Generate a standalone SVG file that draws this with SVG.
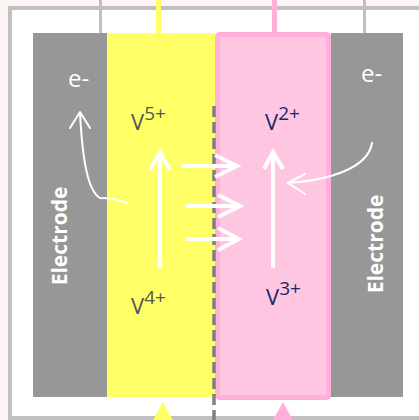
<svg xmlns="http://www.w3.org/2000/svg" width="419" height="420" viewBox="0 0 419 420">
<style>
.lbl{font-family:"Open Sans","Liberation Sans",sans-serif}
.ion{font-size:22px}
.sup{font-size:19px}
.e{font-size:24px;fill:#ffffff}
.el{font-size:21px;font-weight:bold;fill:#ffffff}
.thin{fill:none;stroke:#ffffff;stroke-width:2;stroke-linecap:round;stroke-linejoin:round}
.thick{fill:none;stroke:#ffffff;stroke-width:4;stroke-linejoin:miter}
</style>
<rect x="0" y="0" width="419" height="420" fill="#fdf6f4"/>
<rect id="frame" x="10" y="8" width="420" height="410" fill="#ffffff" stroke="#c0c0c0" stroke-width="4"/>
<g id="wires">
<line x1="100.5" y1="0" x2="100.5" y2="34" stroke="#c0c0c0" stroke-width="3"/>
<line x1="158.5" y1="0" x2="158.5" y2="34" stroke="#ffff66" stroke-width="5"/>
<line x1="274.5" y1="0" x2="274.5" y2="34" stroke="#ffb0d8" stroke-width="5"/>
<line x1="364.5" y1="0" x2="364.5" y2="34" stroke="#c0c0c0" stroke-width="3"/>
<polygon points="163,402 152,422 174,422" fill="#ffff66"/>
<polygon points="283,402 272,422 294,422" fill="#ffb0d8"/>
</g>
<g id="left-electrode">
<rect x="33" y="33" width="74" height="364" fill="#979797"/>
<text class="lbl el" transform="translate(67,236) rotate(-90)" text-anchor="middle">Electrode</text>
<text class="lbl e" x="68" y="87">e-</text>
</g>
<g id="yellow-electrolyte">
<rect x="107" y="33" width="108" height="364" fill="#ffff66"/>
<text class="lbl ion" x="131" y="130" fill="#555555">V<tspan class="sup" dy="-10">5+</tspan></text>
<text class="lbl ion" x="131" y="314" fill="#555555">V<tspan class="sup" dy="-10">4+</tspan></text>
</g>
<g id="pink-electrolyte">
<rect x="217.5" y="34.5" width="111" height="363" rx="2" fill="#ffc6e2" stroke="#ffb0d8" stroke-width="5"/>
<text class="lbl ion" x="265" y="130" fill="#152a6e">V<tspan class="sup" dy="-10">2+</tspan></text>
<text class="lbl ion" x="266" y="305" fill="#152a6e">V<tspan class="sup" dy="-10">3+</tspan></text>
</g>
<g id="right-electrode">
<rect x="331" y="33" width="72" height="364" fill="#979797"/>
<text class="lbl el" transform="translate(383,244) rotate(-90)" text-anchor="middle">Electrode</text>
<text class="lbl e" x="361" y="82">e-</text>
</g>
<g id="membrane">
<line x1="214" y1="106" x2="214" y2="420" stroke="#7f7f7f" stroke-width="3.5" stroke-dasharray="11 5"/>
</g>
<g id="connectors">
<path class="thin" d="M127,203 C118,199 110,198 100,198 C86,190 82,150 80,113"/>
<path class="thin" d="M70,128 L80,112 L90,128"/>
<path class="thin" d="M372,143 C368,168 330,180 288,183"/>
<path class="thin" d="M305,174 L288,183 L305,194"/>
<path class="thick" d="M160,268 V152"/>
<path class="thick" d="M150,170 L160,152 L170,170"/>
<path class="thick" d="M273,268 V152"/>
<path class="thick" d="M264,169 L273,152 L283,169"/>
<path class="thick" d="M182,166 H236"/>
<path class="thick" d="M215,155 L237,166 L215,177"/>
<path class="thick" d="M186,206 H240"/>
<path class="thick" d="M218,195 L240,206 L218,217"/>
<path class="thick" d="M186,239 H239"/>
<path class="thick" d="M218,228 L239,239 L218,250"/>
</g>
</svg>
